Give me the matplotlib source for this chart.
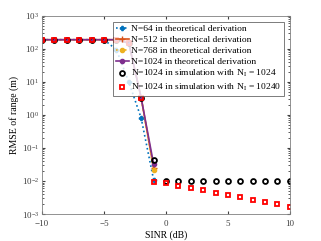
import matplotlib
matplotlib.use('Agg')
import matplotlib.pyplot as plt
import numpy as np

plt.rcParams['font.family'] = ['Liberation Serif', 'DejaVu Serif']
plt.rcParams['mathtext.fontset'] = 'stix'

sinr = list(range(-10, 11))
sinr_th = list(range(-10, 0))

n64 = [190, 190, 190, 190, 190, 190, 95, 10, 0.8, 0.011]
n512 = [190, 190, 190, 190, 190, 190, 190, 150, 3.3, 0.025]
n768 = [190, 190, 190, 190, 190, 190, 190, 150, 3.3, 0.022]
n1024 = [190, 190, 190, 190, 190, 190, 190, 150, 3.3, 0.033]

sim_1024 = [190, 190, 190, 190, 190, 190, 190, 150, 3.3, 0.044,
            0.01, 0.01, 0.01, 0.01, 0.01, 0.01, 0.01, 0.01, 0.01, 0.01, 0.01]
sim_10240 = [190, 190, 190, 190, 190, 190, 190, 150, 3.3, 0.0095,
             0.0085, 0.0072, 0.0062, 0.0052, 0.0044, 0.0038, 0.0032,
             0.0027, 0.0023, 0.0020, 0.0016]

fig = plt.figure(figsize=(3.21, 2.41), dpi=100)
ax = fig.add_axes([0.131, 0.112, 0.772, 0.822])

ax.semilogy(sinr_th, n64, ':', color='#0072BD', lw=1.2, marker='P', ms=3,
            label='N=64 in theoretical derivation')
ax.semilogy(sinr_th, n512, '-', color='#D95319', lw=1.2, marker='+', ms=4,
            label='N=512 in theoretical derivation')
ax.semilogy(sinr_th, n768, ':', color='#EDB120', lw=1.2, marker='o', ms=3,
            label='N=768 in theoretical derivation')
ax.semilogy(sinr_th, n1024, '-', color='#7E2F8E', lw=1.2, marker='o', ms=3,
            label='N=1024 in theoretical derivation')
ax.semilogy(sinr, sim_1024, 'o', color='black', mfc='none', mew=1.3, ms=3.5,
            label='N=1024 in simulation with N$_\\mathrm{I}$ = 1024')
ax.semilogy(sinr, sim_10240, 's', color='red', mfc='none', mew=1.3, ms=3.5,
            label='N=1024 in simulation with N$_\\mathrm{I}$ = 10240')

ax.set_xlim(-10, 10)
ax.set_ylim(1e-3, 1e3)
ax.set_xticks([-10, -5, 0, 5, 10])
ax.set_xlabel('SINR (dB)', fontsize=7, labelpad=2)
ax.set_ylabel('RMSE of range (m)', fontsize=7, labelpad=2)
ax.tick_params(axis='x', pad=4)
ax.tick_params(axis='y', pad=2)
ax.tick_params(which='both', direction='in', top=True, right=True,
               labelsize=6.5, colors='#404040')
ax.tick_params(which='major', length=2.5)
ax.tick_params(which='minor', length=1.5)
for s in ax.spines.values():
    s.set_color('#808080')
    s.set_linewidth(0.6)

leg = ax.legend(loc='upper right', fontsize=6.8, frameon=True, fancybox=False,
                edgecolor='#404040', handlelength=1.4, borderpad=0.3,
                labelspacing=0.25, handletextpad=0.25, borderaxespad=0.6)
leg.get_frame().set_linewidth(0.6)

fig.savefig('out.png', dpi=100)
